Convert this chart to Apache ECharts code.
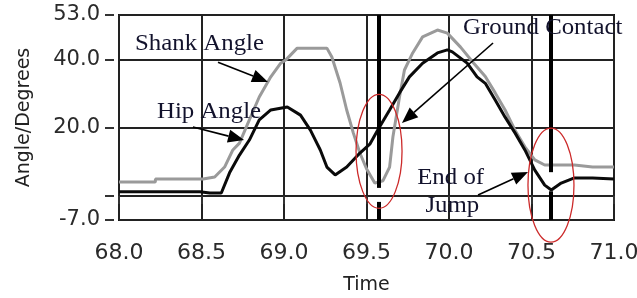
<!DOCTYPE html>
<html>
<head>
<meta charset="utf-8">
<script src="https://cdn.jsdelivr.net/npm/echarts@6/dist/echarts.min.js"></script>
<style>
  html, body { margin: 0; padding: 0; background: #fff; }
  #chart { width: 637px; height: 298px; }
</style>
</head>
<body>
<div id="chart"></div>
<script>
// hip angle (black)
const hipTime = [68.0, 68.49, 68.55, 68.62, 68.67, 68.73, 68.79, 68.85, 68.92, 69.02,
  69.10, 69.16, 69.22, 69.26, 69.31, 69.38, 69.46, 69.52, 69.57, 69.64,
  69.70, 69.76, 69.84, 69.93, 69.99, 70.02, 70.11, 70.17, 70.22, 70.28,
  70.34, 70.40, 70.46, 70.52, 70.58, 70.62, 70.68, 70.76, 70.87, 71.0];
const hipAngle = [1.3, 1.3, 0.9, 0.9, 6.8, 12.0, 16.4, 22.3, 25.2, 26.1,
  23.7, 19.3, 13.5, 8.5, 6.2, 8.5, 12.6, 15.2, 19.5, 25.2,
  30.2, 34.9, 38.9, 41.9, 42.8, 42.2, 38.9, 34.9, 33.0, 28.1,
  23.1, 18.5, 13.5, 7.6, 3.2, 1.8, 3.8, 5.3, 5.3, 5.0];

// shank angle (grey)
const shankTime = [68.0, 68.22, 68.221, 68.51, 68.58, 68.64, 68.69, 68.73, 68.79, 68.85,
  68.92, 68.98, 69.01, 69.08, 69.26, 69.29, 69.34, 69.38, 69.42, 69.46,
  69.50, 69.55, 69.60, 69.64, 69.66, 69.70, 69.73, 69.78, 69.84, 69.93,
  69.99, 70.07, 70.15, 70.22, 70.28, 70.34, 70.40, 70.46, 70.52, 70.58,
  70.76, 70.87, 71.0];
const shankAngle = [4.1, 4.1, 5.0, 5.0, 5.6, 8.5, 13.5, 15.5, 22.3, 29.0,
  34.9, 38.9, 39.8, 43.3, 43.3, 40.7, 33.1, 25.2, 18.5, 12.6,
  8.0, 3.8, 4.5, 8.5, 17.3, 29.0, 36.9, 41.9, 46.6, 48.6,
  47.7, 43.6, 38.9, 35.0, 30.2, 25.2, 19.3, 14.4, 10.6, 9.1,
  9.1, 8.5, 8.5];

// thick event markers: [time, from angle, to angle]
const eventSegments = [[69.576, 53, 2.4], [69.576, -1.7, -7], [70.618, 53, 7.0], [70.618, 1.4, -7]];

const yTicks = [-7, 0, 20, 40, 53];

// annotations, in data coordinates
const labelTexts = ["Shank Angle", "Hip Angle", "Ground Contact", "End of", "Jump"];
const labelAnchors = [[68.097, 44.4], [68.23, 24.6], [70.085, 49.2], [70.01, 5.2], [70.02, -2.9]];
const labelAlign = ["left", "left", "left", "center", "center"];
const arrowFrom = [[68.60, 39.2], [68.448, 20.2], [70.267, 44.8], [70.176, 0.3]];
const arrowTo = [[68.903, 33.4], [68.758, 16.4], [69.715, 21.4], [70.479, 7.05]];
const ellipseCenters = [[69.576, 13.1], [70.618, 3.2]];

const chart = echarts.init(document.getElementById("chart"));

function pairs(xs, ys) {
  return xs.map((x, i) => [x, ys[i]]);
}

chart.setOption({
  animation: false,
  grid: { left: 119, right: 23, top: 15, bottom: 78, containLabel: false, outerBoundsMode: "none",
    show: true, borderColor: "#111", borderWidth: 2 },
  xAxis: {
    type: "value", min: 68, max: 71, interval: 0.5, offset: 4,
    name: "Time", nameLocation: "middle", nameGap: 52,
    nameTextStyle: { fontFamily: "DejaVu Sans", fontSize: 19, color: "#222" },
    axisLine: { show: false },
    axisTick: { show: true, length: 8, lineStyle: { color: "#333", width: 2 } },
    axisLabel: { margin: 18, fontFamily: "DejaVu Sans", fontSize: 22, color: "#2a2a2a", formatter: (v) => v.toFixed(1) },
    splitLine: { show: true, lineStyle: { color: "#222", width: 2 } }
  },
  yAxis: {
    type: "value", min: -7, max: 53, offset: 5,
    name: "Angle/Degrees", nameLocation: "middle", nameGap: 80,
    nameTextStyle: { fontFamily: "DejaVu Sans", fontSize: 19, color: "#222" },
    axisLine: { show: false },
    axisTick: { show: true, length: 9, customValues: yTicks, lineStyle: { color: "#333", width: 2 } },
    axisLabel: { margin: 14, fontFamily: "DejaVu Sans", fontSize: 21, color: "#2a2a2a", customValues: yTicks,
      formatter: (v) => (v === 0 ? "" : v.toFixed(1)) },
    splitLine: { show: true, lineStyle: { color: "#222", width: 2 } }
  },
  series: [
    {
      name: "Shank Angle", type: "line", showSymbol: false, z: 3,
      data: pairs(shankTime, shankAngle),
      lineStyle: { color: "#9a9a9a", width: 3 }
    },
    {
      name: "Hip Angle", type: "line", showSymbol: false, z: 4,
      data: pairs(hipTime, hipAngle),
      lineStyle: { color: "#0a0a0a", width: 3 },
      markLine: {
        silent: true, symbol: ["none", "none"], label: { show: false },
        lineStyle: { color: "#000", width: 4, type: "solid" },
        data: eventSegments.map((s) => [{ coord: [s[0], s[1]] }, { coord: [s[0], s[2]] }])
      }
    }
  ]
});

function px(p) {
  return chart.convertToPixel({ gridIndex: 0 }, p);
}

function arrow(from, to) {
  const a = px(from), b = px(to);
  const ang = Math.atan2(b[1] - a[1], b[0] - a[0]);
  const c = Math.cos(ang), s = Math.sin(ang);
  const len = 16, half = 6.5;
  const bx = b[0] - len * c, by = b[1] - len * s;
  return [
    { type: "line", z: 20, shape: { x1: a[0], y1: a[1], x2: bx, y2: by }, style: { stroke: "#000", lineWidth: 1.6 } },
    { type: "polygon", z: 20, shape: { points: [b, [bx + half * s, by - half * c], [bx - half * s, by + half * c]] }, style: { fill: "#000" } }
  ];
}

const elements = [];
ellipseCenters.forEach((c) => {
  const p = px(c);
  elements.push({ type: "ellipse", z: 19, shape: { cx: p[0], cy: p[1], rx: 23, ry: 57 },
    style: { fill: "none", stroke: "#cc2a2a", lineWidth: 1.3 } });
});
arrowFrom.forEach((f, i) => elements.push(...arrow(f, arrowTo[i])));
labelTexts.forEach((t, i) => {
  const p = px(labelAnchors[i]);
  elements.push({ type: "text", z: 21, x: p[0], y: p[1], scaleX: 1.08,
    style: { text: t, x: 0, y: 0, font: '23px "Liberation Serif"', fill: "#12122c",
      align: labelAlign[i], verticalAlign: "middle" } });
});

chart.setOption({ graphic: { elements: elements } });
</script>
</body>
</html>
